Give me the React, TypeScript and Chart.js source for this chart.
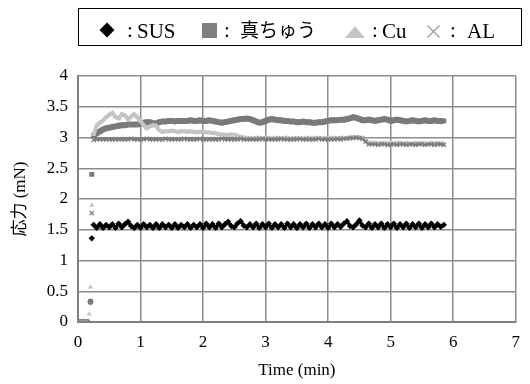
import { useEffect, useRef } from 'react';
import { Chart, registerables } from 'chart.js';
Chart.register(...registerables);

// time (min)
const TIME = [
  0, 0.05, 0.1, 0.15, 0.18, 0.2, 0.22,
  0.25, 0.3, 0.35, 0.4, 0.45, 0.5, 0.55, 0.6, 0.65, 0.7,
  0.75, 0.8, 0.85, 0.9, 0.95, 1, 1.05, 1.1, 1.15, 1.2,
  1.25, 1.3, 1.35, 1.4, 1.45, 1.5, 1.55, 1.6, 1.65, 1.7,
  1.75, 1.8, 1.85, 1.9, 1.95, 2, 2.05, 2.1, 2.15, 2.2,
  2.25, 2.3, 2.35, 2.4, 2.45, 2.5, 2.55, 2.6, 2.65, 2.7,
  2.75, 2.8, 2.85, 2.9, 2.95, 3, 3.05, 3.1, 3.15, 3.2,
  3.25, 3.3, 3.35, 3.4, 3.45, 3.5, 3.55, 3.6, 3.65, 3.7,
  3.75, 3.8, 3.85, 3.9, 3.95, 4, 4.05, 4.1, 4.15, 4.2,
  4.25, 4.3, 4.35, 4.4, 4.45, 4.5, 4.55, 4.6, 4.65, 4.7,
  4.75, 4.8, 4.85, 4.9, 4.95, 5, 5.05, 5.1, 5.15, 5.2,
  5.25, 5.3, 5.35, 5.4, 5.45, 5.5, 5.55, 5.6, 5.65, 5.7,
  5.75, 5.8, 5.85,
];

const SUS = [
  0, 0, 0, 0, null, 0.33, 1.36,
  1.58, 1.53, 1.59, 1.53, 1.58, 1.54, 1.59, 1.53, 1.6, 1.54,
  1.59, 1.63, 1.56, 1.53, 1.58, 1.53, 1.59, 1.54, 1.58, 1.53,
  1.59, 1.53, 1.59, 1.54, 1.58, 1.53, 1.59, 1.53, 1.58, 1.54,
  1.59, 1.53, 1.58, 1.54, 1.59, 1.53, 1.6, 1.54, 1.59, 1.53,
  1.6, 1.54, 1.59, 1.63, 1.56, 1.54, 1.6, 1.64, 1.57, 1.54,
  1.59, 1.54, 1.6, 1.53, 1.59, 1.54, 1.6, 1.53, 1.59, 1.54,
  1.59, 1.53, 1.6, 1.54, 1.59, 1.53, 1.59, 1.54, 1.6, 1.53,
  1.59, 1.54, 1.6, 1.54, 1.59, 1.53, 1.6, 1.54, 1.59, 1.55,
  1.6, 1.64, 1.56, 1.54, 1.59, 1.65, 1.57, 1.54, 1.6, 1.53,
  1.59, 1.54, 1.6, 1.53, 1.59, 1.54, 1.6, 1.53, 1.59, 1.54,
  1.6, 1.53, 1.59, 1.54, 1.6, 1.53, 1.59, 1.54, 1.6, 1.54,
  1.59, 1.55, 1.58,
];

const BRASS = [
  0, 0, 0, 0, null, 0.33, 2.4,
  3.03, 3.07, 3.1, 3.13, 3.15, 3.16, 3.17, 3.18, 3.19, 3.2,
  3.2, 3.21, 3.21, 3.21, 3.21, 3.22, 3.24, 3.25, 3.25, 3.23,
  3.23, 3.25, 3.26, 3.26, 3.27, 3.27, 3.26, 3.27, 3.27, 3.27,
  3.27, 3.28, 3.27, 3.27, 3.28, 3.27, 3.27, 3.28, 3.27, 3.26,
  3.25, 3.24, 3.25, 3.26, 3.27, 3.28, 3.29, 3.3, 3.3, 3.31,
  3.3, 3.28, 3.26, 3.24, 3.25, 3.27, 3.29, 3.3, 3.29, 3.28,
  3.28, 3.27, 3.27, 3.26, 3.26, 3.25, 3.25, 3.26, 3.25, 3.25,
  3.24, 3.24, 3.25, 3.25, 3.26, 3.27, 3.28, 3.28, 3.28, 3.29,
  3.29, 3.3, 3.31, 3.33, 3.32, 3.3, 3.28, 3.28, 3.29, 3.28,
  3.27, 3.28, 3.29, 3.3, 3.29, 3.27, 3.28, 3.29, 3.28, 3.27,
  3.26, 3.27, 3.28, 3.27, 3.26, 3.27, 3.28, 3.27, 3.27, 3.28,
  3.27, 3.27, 3.27,
];

const CU = [
  0, 0, 0, 0, 0.13, 0.57, 1.9,
  3.05, 3.2, 3.24, 3.28, 3.33, 3.37, 3.4, 3.33, 3.31, 3.38,
  3.36, 3.3, 3.34, 3.38, 3.33, 3.27, 3.2, 3.15, 3.18, 3.2,
  3.19, 3.12, 3.09, 3.1, 3.1, 3.11, 3.1, 3.09, 3.1, 3.1,
  3.09, 3.1, 3.09, 3.08, 3.09, 3.1, 3.08, 3.08, 3.07, 3.07,
  3.05, 3.05, 3.04, 3.04, 3.05, 3.04, 3.03, 3.01, 3.0, 2.99,
  2.99, 2.98, 2.99, 2.99, 2.98, 2.99, 2.99, 2.98, 2.99, 2.99,
  2.98, 2.99, 2.99, 2.98, 2.99, 2.99, 2.98, 2.98, 2.99, 2.99,
  2.98, 2.99, 2.99, 2.98, 2.99, 2.98, 2.99, 2.99, 2.98, 2.99,
  2.99, 2.99, 3.0, 3.0, 3.0, 3.0, 2.99, 2.95, 2.91, 2.91,
  2.91, 2.9, 2.91, 2.91, 2.9, 2.91, 2.9, 2.91, 2.91, 2.9,
  2.91, 2.9, 2.9, 2.91, 2.9, 2.91, 2.9, 2.9, 2.91, 2.9,
  2.91, 2.9, 2.9,
];

const AL = [
  0, 0, 0, 0, null, 0.33, 1.77,
  2.96, 2.97, 2.97, 2.97, 2.97, 2.97, 2.97, 2.97, 2.97, 2.97,
  2.97, 2.97, 2.98, 2.97, 2.97, 2.97, 2.97, 2.98, 2.97, 2.97,
  2.97, 2.97, 2.97, 2.98, 2.97, 2.97, 2.97, 2.97, 2.97, 2.98,
  2.97, 2.97, 2.97, 2.97, 2.98, 2.97, 2.97, 2.97, 2.97, 2.97,
  2.97, 2.98, 2.97, 2.97, 2.97, 2.97, 2.97, 2.98, 2.97, 2.97,
  2.97, 2.97, 2.97, 2.97, 2.98, 2.97, 2.97, 2.97, 2.97, 2.97,
  2.98, 2.97, 2.97, 2.97, 2.97, 2.97, 2.98, 2.97, 2.97, 2.97,
  2.97, 2.97, 2.98, 2.97, 2.97, 2.97, 2.97, 2.97, 2.98, 2.97,
  2.98, 2.98, 2.99, 2.99, 3.0, 2.99, 2.98, 2.93, 2.89, 2.89,
  2.89, 2.88, 2.89, 2.89, 2.88, 2.89, 2.89, 2.88, 2.89, 2.89,
  2.88, 2.89, 2.89, 2.88, 2.89, 2.89, 2.88, 2.89, 2.89, 2.88,
  2.89, 2.89, 2.88,
];

const X_TITLE = 'Time (min)';
const Y_TITLE = '応力 (mN)';
const LEGEND_LABELS = ['SUS', '真ちゅう', 'Cu', 'AL'];

const SERIF = '"Liberation Serif", "Times New Roman", "Noto Sans CJK JP", serif';
const CJK = '"Noto Sans CJK JP", sans-serif';

function pts(vals: (number | null)[]) {
  return TIME.map((x, i) => ({ x, y: vals[i] })).filter((p) => p.y !== null) as { x: number; y: number }[];
}

// no connecting line through the start-up transient
const hideStart = (ctx: any) => (ctx.p1.parsed.x <= 0.25 ? 'rgba(0,0,0,0)' : undefined);

const legendPlugin = {
  id: 'boxLegend',
  afterDraw(chart: any) {
    const ctx = chart.ctx as CanvasRenderingContext2D;
    ctx.save();
    ctx.strokeStyle = '#000';
    ctx.lineWidth = 1;
    ctx.strokeRect(78.5, 8.5, 443, 37);
    const base = 38;
    ctx.fillStyle = '#000';
    ctx.beginPath();
    ctx.moveTo(107, 22.5);
    ctx.lineTo(114.5, 30);
    ctx.lineTo(107, 37.5);
    ctx.lineTo(99.5, 30);
    ctx.closePath();
    ctx.fill();
    ctx.fillStyle = '#808080';
    ctx.fillRect(202, 23, 15, 15);
    ctx.fillStyle = '#c4c4c4';
    ctx.beginPath();
    ctx.moveTo(345, 38);
    ctx.lineTo(365, 38);
    ctx.lineTo(355, 26);
    ctx.closePath();
    ctx.fill();
    ctx.strokeStyle = '#999';
    ctx.lineWidth = 1.2;
    ctx.beginPath();
    ctx.moveTo(427.5, 25.5);
    ctx.lineTo(439.5, 37.5);
    ctx.moveTo(439.5, 25.5);
    ctx.lineTo(427.5, 37.5);
    ctx.stroke();

    ctx.fillStyle = '#000';
    ctx.textBaseline = 'alphabetic';
    ctx.textAlign = 'center';
    ctx.font = '21px ' + SERIF;
    [130, 227, 375, 453].forEach((cx) => ctx.fillText(':', cx, base - 1));
    ctx.textAlign = 'left';
    ctx.fillText(LEGEND_LABELS[0], 137, base);
    ctx.fillText(LEGEND_LABELS[2], 382, base);
    ctx.fillText(LEGEND_LABELS[3], 467, base);
    ctx.font = '19px ' + CJK;
    ctx.fillText(LEGEND_LABELS[1], 240, base - 1);
    ctx.restore();
  },
};

export default function App() {
  const ref = useRef<HTMLCanvasElement>(null);
  useEffect(() => {
    if (!ref.current) return;
    const tickFont = { family: SERIF, size: 17 };
    const chart = new Chart(ref.current, {
      type: 'scatter',
      data: {
        datasets: [
          {
            label: LEGEND_LABELS[0],
            data: pts(SUS),
            showLine: true,
            borderWidth: 3,
            pointStyle: 'rectRot',
            pointRadius: 3.2,
            pointBorderWidth: 0,
            backgroundColor: '#000',
            borderColor: '#000',
            segment: { borderColor: hideStart },
            order: 3,
          },
          {
            label: LEGEND_LABELS[1],
            data: pts(BRASS),
            showLine: true,
            borderWidth: 6,
            pointStyle: 'rect',
            pointRadius: 3.5,
            pointBorderWidth: 0,
            backgroundColor: '#7a7a7a',
            borderColor: '#7a7a7a',
            segment: { borderColor: hideStart },
            order: 2,
          },
          {
            label: LEGEND_LABELS[2],
            data: pts(CU),
            showLine: true,
            borderWidth: 4,
            pointStyle: 'triangle',
            pointRadius: 3,
            pointBorderWidth: 0,
            backgroundColor: '#c4c4c4',
            borderColor: '#c4c4c4',
            segment: { borderColor: hideStart },
            order: 1,
          },
          {
            label: LEGEND_LABELS[3],
            data: pts(AL),
            showLine: true,
            borderWidth: 2,
            pointStyle: 'crossRot',
            pointRadius: 3,
            pointBorderWidth: 1.2,
            backgroundColor: '#7e7e7e',
            borderColor: '#7e7e7e',
            segment: { borderColor: hideStart },
            order: 0,
          },
        ],
      },
      options: {
        animation: false,
        responsive: false,
        layout: { padding: { top: 76, right: 9, bottom: 0, left: 0 } },
        plugins: { legend: { display: false }, tooltip: { enabled: false } },
        scales: {
          x: {
            type: 'linear',
            min: 0,
            max: 7,
            ticks: { stepSize: 1, font: tickFont, color: '#000', padding: 10, callback: (v: any) => String(v) },
            grid: { color: '#8c8c8c', lineWidth: 1.5, drawTicks: false },
            border: { color: '#808080', width: 2 },
            title: { display: true, text: X_TITLE, font: tickFont, color: '#000', padding: { top: 0, bottom: 3 } },
            afterFit: (s: any) => { s.height = 62; },
          },
          y: {
            type: 'linear',
            min: 0,
            max: 4,
            ticks: { stepSize: 0.5, font: tickFont, color: '#000', padding: 10, callback: (v: any) => String(v) },
            grid: { color: '#8c8c8c', lineWidth: 1.5, drawTicks: false },
            border: { color: '#808080', width: 2 },
            title: { display: true, text: Y_TITLE, font: tickFont, color: '#000', padding: { top: 10, bottom: 0 } },
            afterFit: (s: any) => { s.width = 78; },
          },
        },
      },
      plugins: [legendPlugin],
    });
    return () => chart.destroy();
  }, []);
  return <canvas ref={ref} width={530} height={384} style={{ position: 'fixed', left: 0, top: 0, width: 530, height: 384 }} />;
}
